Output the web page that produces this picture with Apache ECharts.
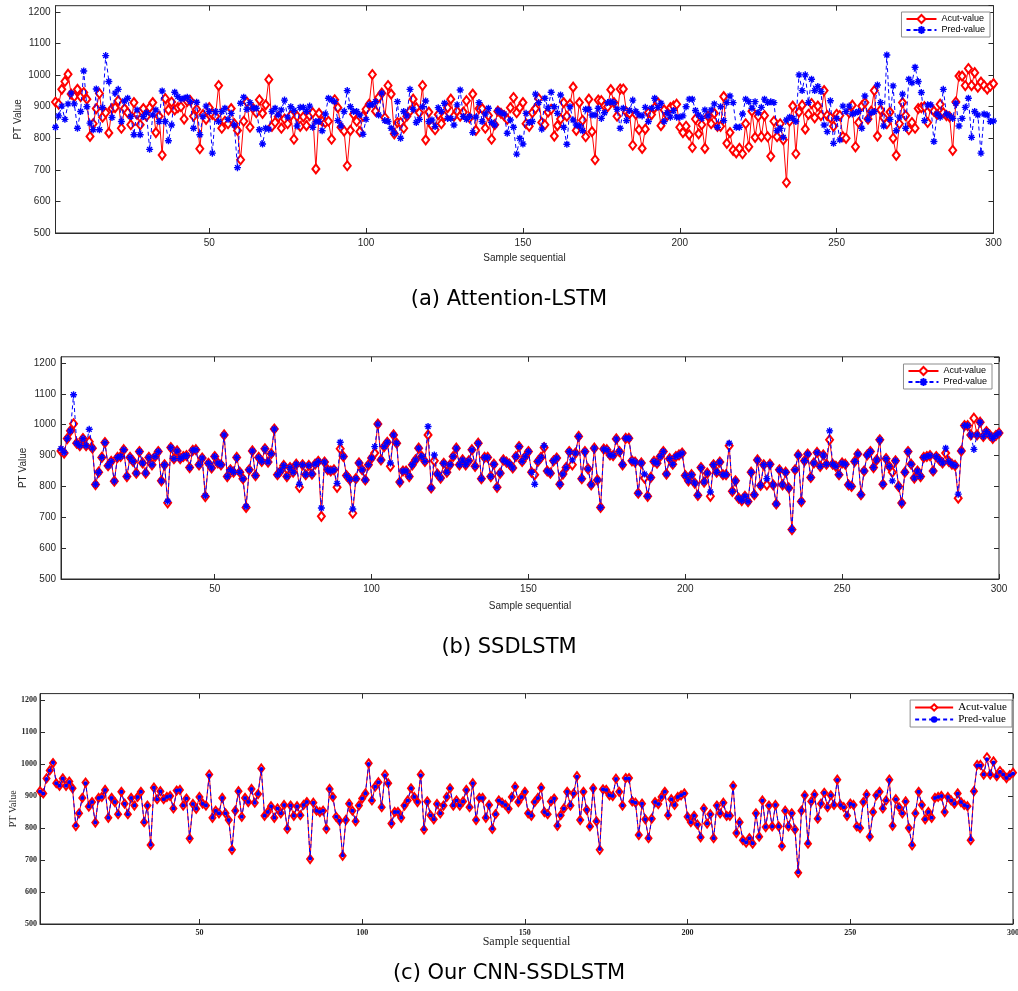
<!DOCTYPE html>
<html>
<head>
<meta charset="utf-8">
<title>PT Value</title>
<script src="https://cdn.jsdelivr.net/npm/echarts@6/dist/echarts.min.js"></script>
<style>
html, body { margin: 0; padding: 0; background: #fff; }
#main { width: 1018px; height: 991px; }
</style>
</head>
<body>
<div id="main"></div>
<script>
// actual PT values (same in all three panels)
var acutValue = [
	915, 908, 955, 980, 1003, 940, 932, 955, 932, 945,
	924, 806, 846, 894, 942, 867, 881, 817, 894, 897,
	919, 832, 894, 881, 843, 913, 876, 843, 894, 870,
	897, 913, 818, 870, 747, 926, 890, 915, 890, 897,
	900, 861, 917, 919, 870, 892, 767, 875, 860, 897,
	876, 870, 967, 832, 854, 846, 894, 846, 825, 732,
	854, 915, 835, 894, 881, 922, 879, 906, 986, 838,
	850, 868, 832, 861, 846, 872, 797, 870, 838, 868,
	840, 872, 881, 703, 879, 854, 850, 854, 797, 922,
	897, 835, 823, 713, 825, 876, 854, 821, 870, 892,
	908, 1002, 886, 929, 943, 865, 967, 940, 814, 850,
	850, 832, 870, 886, 924, 897, 881, 967, 795, 883,
	840, 827, 875, 846, 870, 897, 924, 870, 886, 870,
	883, 919, 865, 940, 825, 894, 894, 832, 872, 797,
	843, 886, 879, 872, 860, 897, 929, 881, 897, 913,
	846, 838, 881, 894, 926, 850, 843, 883, 892, 807,
	840, 861, 913, 870, 908, 962, 825, 913, 857, 805,
	924, 821, 732, 921, 919, 902, 900, 954, 913, 870,
	956, 956, 883, 879, 778, 876, 827, 768, 829, 881,
	875, 897, 913, 840, 890, 872, 897, 902, 908, 835,
	818, 838, 811, 771, 861, 814, 843, 768, 870, 846,
	879, 838, 838, 932, 784, 818, 762, 754, 768, 751,
	846, 773, 886, 803, 870, 805, 872, 805, 743, 854,
	805, 846, 795, 660, 854, 902, 751, 883, 905, 829,
	876, 910, 865, 902, 872, 951, 872, 865, 838, 876,
	872, 805, 800, 881, 905, 773, 850, 902, 913, 861,
	886, 951, 807, 890, 865, 846, 883, 800, 746, 846,
	913, 872, 827, 850, 832, 894, 897, 900, 850, 897,
	886, 876, 908, 881, 872, 868, 762, 915, 997, 997,
	967, 1021, 967, 1008, 962, 978, 967, 956, 965, 973
];

// (a) Attention-LSTM prediction
var predAttention = [
	835, 871, 902, 860, 909, 943, 909, 832, 885, 1013,
	900, 848, 827, 956, 827, 897, 1062, 980, 866, 943,
	955, 853, 918, 927, 869, 811, 890, 811, 869, 881,
	765, 874, 890, 853, 950, 853, 792, 842, 946, 932,
	924, 927, 930, 916, 832, 914, 811, 869, 902, 885,
	753, 885, 853, 885, 895, 860, 879, 842, 707, 911,
	930, 892, 913, 895, 895, 827, 782, 832, 829, 885,
	895, 874, 890, 921, 867, 900, 888, 839, 898, 898,
	885, 902, 835, 853, 853, 824, 877, 927, 921, 916,
	856, 839, 885, 951, 900, 885, 885, 874, 813, 860,
	906, 906, 916, 874, 943, 856, 853, 832, 816, 916,
	800, 885, 871, 955, 892, 850, 860, 900, 918, 853,
	858, 837, 897, 885, 911, 863, 863, 842, 906, 953,
	869, 860, 869, 818, 867, 913, 853, 877, 895, 850,
	842, 888, 881, 877, 816, 858, 835, 750, 800, 782,
	879, 850, 853, 940, 913, 829, 927, 895, 946, 900,
	879, 937, 835, 781, 900, 858, 842, 839, 824, 892,
	892, 874, 874, 895, 863, 881, 913, 916, 913, 892,
	832, 895, 856, 888, 921, 885, 874, 871, 898, 853,
	895, 927, 898, 911, 853, 881, 867, 888, 867, 867,
	871, 900, 924, 924, 888, 874, 863, 890, 871, 890,
	909, 835, 900, 856, 913, 934, 913, 835, 835, 877,
	924, 916, 895, 916, 881, 898, 924, 913, 916, 913,
	824, 832, 803, 858, 867, 863, 853, 1001, 951, 1001,
	913, 987, 951, 964, 948, 842, 821, 919, 784, 863,
	795, 902, 885, 902, 877, 881, 885, 832, 934, 860,
	881, 885, 969, 913, 839, 1064, 860, 966, 824, 867,
	940, 832, 987, 976, 1025, 980, 945, 856, 906, 906,
	790, 877, 867, 955, 877, 871, 863, 911, 839, 863,
	898, 927, 803, 885, 874, 753, 877, 874, 853, 855
];

// (b) SSDLSTM prediction
var predSsdlstm = [
	922, 910, 955, 980, 1097, 940, 932, 955, 932, 985,
	924, 806, 846, 894, 942, 867, 881, 817, 894, 897,
	919, 832, 894, 881, 843, 913, 876, 843, 894, 870,
	897, 913, 818, 870, 752, 926, 890, 915, 890, 897,
	900, 861, 917, 919, 870, 892, 770, 875, 860, 897,
	876, 870, 967, 832, 854, 846, 894, 846, 825, 735,
	854, 915, 835, 894, 881, 922, 879, 906, 986, 838,
	850, 868, 832, 861, 846, 872, 807, 870, 838, 868,
	840, 872, 881, 730, 879, 854, 850, 854, 810, 943,
	897, 835, 823, 727, 825, 876, 854, 821, 870, 892,
	929, 1002, 886, 929, 943, 876, 967, 940, 814, 850,
	850, 832, 870, 886, 924, 897, 881, 994, 795, 902,
	840, 827, 875, 846, 870, 897, 924, 870, 886, 870,
	883, 919, 865, 940, 825, 894, 894, 832, 872, 797,
	843, 886, 879, 872, 860, 897, 929, 881, 897, 913,
	846, 807, 881, 894, 932, 850, 843, 883, 892, 807,
	840, 861, 913, 886, 908, 962, 825, 913, 857, 805,
	924, 821, 732, 921, 919, 902, 900, 954, 913, 870,
	956, 956, 883, 879, 778, 876, 840, 768, 829, 881,
	875, 897, 913, 840, 890, 872, 897, 902, 908, 835,
	818, 838, 811, 771, 861, 814, 843, 782, 870, 846,
	879, 838, 838, 940, 784, 818, 762, 754, 768, 751,
	846, 773, 886, 803, 870, 825, 872, 805, 743, 854,
	805, 846, 795, 660, 854, 902, 751, 883, 905, 829,
	876, 910, 865, 902, 872, 980, 872, 865, 838, 876,
	872, 805, 800, 881, 905, 773, 850, 902, 913, 861,
	886, 951, 807, 890, 865, 818, 883, 800, 746, 846,
	913, 872, 827, 850, 832, 894, 897, 900, 850, 897,
	886, 876, 924, 881, 872, 868, 775, 915, 997, 997,
	967, 920, 967, 1008, 962, 978, 967, 956, 965, 973
];

// (c) CNN-SSDLSTM prediction
var predOurs = [
	914, 908, 953, 980, 1005, 940, 932, 955, 932, 944,
	924, 808, 846, 894, 940, 867, 881, 817, 894, 897,
	919, 832, 894, 881, 843, 913, 876, 843, 894, 870,
	897, 913, 818, 870, 748, 926, 890, 915, 890, 897,
	900, 861, 917, 919, 870, 892, 768, 875, 860, 897,
	876, 870, 965, 832, 854, 846, 894, 846, 825, 733,
	854, 915, 835, 894, 881, 922, 879, 906, 984, 838,
	850, 868, 832, 861, 846, 872, 798, 870, 838, 868,
	840, 872, 881, 705, 879, 854, 850, 854, 798, 922,
	897, 835, 823, 715, 825, 876, 854, 821, 870, 892,
	908, 1000, 886, 929, 943, 865, 965, 940, 814, 850,
	850, 832, 870, 886, 924, 897, 881, 965, 796, 883,
	840, 827, 875, 846, 870, 897, 924, 870, 886, 870,
	883, 919, 865, 940, 825, 894, 894, 832, 872, 798,
	843, 886, 879, 872, 860, 897, 929, 881, 897, 913,
	846, 838, 881, 894, 926, 850, 843, 883, 892, 807,
	840, 861, 913, 870, 908, 960, 825, 913, 857, 805,
	924, 821, 734, 921, 919, 902, 900, 953, 913, 870,
	955, 955, 883, 879, 778, 876, 827, 768, 829, 881,
	875, 897, 913, 840, 890, 872, 897, 902, 908, 835,
	818, 838, 811, 771, 861, 814, 843, 768, 870, 846,
	879, 838, 838, 932, 784, 818, 762, 755, 768, 752,
	846, 773, 886, 803, 870, 805, 872, 805, 744, 854,
	805, 846, 795, 662, 854, 902, 752, 883, 905, 829,
	876, 910, 865, 902, 872, 950, 872, 865, 838, 876,
	872, 805, 800, 881, 905, 773, 850, 902, 913, 861,
	886, 950, 807, 890, 865, 846, 883, 800, 747, 846,
	913, 872, 827, 850, 832, 894, 897, 900, 850, 897,
	886, 876, 908, 881, 872, 868, 764, 915, 995, 995,
	967, 1015, 967, 1005, 962, 976, 967, 956, 965, 970
];

var xTicks = [50, 100, 150, 200, 250, 300];
var yTicks = [500, 600, 700, 800, 900, 1000, 1100, 1200];
var seriesNames = ['Acut-value', 'Pred-value'];
var captions = ['(a) Attention-LSTM', '(b) SSDLSTM', '(c) Our CNN-SSDLSTM'];

var samples = [];
for (var i = 1; i <= acutValue.length; i++) {
	samples.push(String(i));
}

var ASTERISK = 'path://M5,0L5,10M0,5L10,5M1.5,1.5L8.5,8.5M8.5,1.5L1.5,8.5';

// layout of the three subplots
var panels = [{
	key: 'a', pred: predAttention,
	left: 55.5, top: 5.7, width: 938, height: 227.3,
	font: 'Liberation Sans', tickSize: 10, tickBold: 'normal', nameSize: 10, xNameSize: 10,
	yNameGap: 32, xNameGap: 20, legendRight: 28, legendTop: 12, legendSize: 9, legendW: 30, legendH: 10,
	predSymbol: ASTERISK, predSize: 7, yMargin: 5, caption: 297
}, {
	key: 'b', pred: predSsdlstm,
	left: 61, top: 356.8, width: 938, height: 222.2,
	font: 'Liberation Sans', tickSize: 10, tickBold: 'normal', nameSize: 10, xNameSize: 10,
	yNameGap: 33, xNameGap: 22, legendRight: 26, legendTop: 364, legendSize: 9, legendW: 30, legendH: 10,
	predSymbol: ASTERISK, predSize: 7, yMargin: 5, caption: 645
}, {
	key: 'c', pred: predOurs,
	left: 40, top: 693.6, width: 973, height: 230.4,
	font: 'Liberation Serif', tickSize: 8, tickBold: 'bold', nameSize: 10, xNameSize: 12,
	yNameGap: 22, xNameGap: 12, legendRight: 6, legendTop: 700, legendSize: 11, legendW: 38, legendH: 8,
	predSymbol: 'circle', predSize: 4, yMargin: 3, caption: 971
}];

function isTick(idx, val) {
	return xTicks.indexOf(+val) >= 0;
}

var grids = [], xAxes = [], yAxes = [], series = [], legends = [], graphics = [];

panels.forEach(function(p, k) {
	grids.push({
		left: p.left, top: p.top, width: p.width, height: p.height,
		show: true, borderColor: '#2b2b2b', borderWidth: 1,
		outerBoundsMode: 'none'
	});
	var labelStyle = {
		color: '#262626', fontFamily: p.font, fontSize: p.tickSize, fontWeight: p.tickBold
	};
	// bottom + mirrored top
	xAxes.push({
		type: 'category', gridIndex: k, data: samples, boundaryGap: false,
		position: 'bottom',
		name: 'Sample sequential', nameLocation: 'middle', nameGap: p.xNameGap,
		nameMoveOverlap: false,
		nameTextStyle: { color: '#262626', fontFamily: p.font, fontSize: p.xNameSize },
		axisLine: { lineStyle: { color: '#2b2b2b', width: 1 } },
		axisTick: { inside: true, length: 5, interval: isTick, lineStyle: { color: '#2b2b2b' } },
		axisLabel: Object.assign({ interval: isTick, margin: 5 }, labelStyle),
		splitLine: { show: false }
	});
	xAxes.push({
		type: 'category', gridIndex: k, data: samples, boundaryGap: false,
		position: 'top',
		axisLine: { show: false },
		axisTick: { inside: true, length: 5, interval: isTick, lineStyle: { color: '#2b2b2b' } },
		axisLabel: { show: false },
		splitLine: { show: false }
	});
	var yBase = {
		type: 'value', gridIndex: k, min: 500, max: 1220, interval: 100,
		splitLine: { show: false }
	};
	yAxes.push(Object.assign({}, yBase, {
		position: 'left',
		name: 'PT Value', nameLocation: 'middle', nameRotate: 90, nameGap: p.yNameGap,
		nameMoveOverlap: false,
		nameTextStyle: { color: '#262626', fontFamily: p.font, fontSize: p.nameSize },
		axisLine: { show: true, lineStyle: { color: '#2b2b2b', width: 1 } },
		axisTick: { show: true, inside: true, length: 5, lineStyle: { color: '#2b2b2b' } },
		axisLabel: Object.assign({
			margin: p.yMargin, showMaxLabel: false,
			formatter: function(v) { return yTicks.indexOf(v) >= 0 ? String(v) : ''; }
		}, labelStyle)
	}));
	yAxes.push(Object.assign({}, yBase, {
		position: 'right',
		axisLine: { show: false },
		axisTick: { show: true, inside: true, length: 5, lineStyle: { color: '#2b2b2b' } },
		axisLabel: { show: false }
	}));

	var acutStyle = { color: '#ff0000', borderColor: '#ff0000', borderWidth: 1 };
	var predStyle = { color: '#0000ff', borderColor: '#0000ff', borderWidth: p.key == 'c' ? 0 : 1.4 };

	series.push({
		name: seriesNames[0] + ' ' + p.key, type: 'line',
		xAxisIndex: k * 2, yAxisIndex: k * 2,
		data: acutValue, showAllSymbol: true,
		symbol: 'emptyDiamond', symbolSize: p.key == 'c' ? [6, 8] : [7, 9],
		lineStyle: { color: '#ff0000', width: 1 },
		itemStyle: acutStyle,
		z: 2
	});
	series.push({
		name: seriesNames[1] + ' ' + p.key, type: 'line',
		xAxisIndex: k * 2, yAxisIndex: k * 2,
		data: p.pred, showAllSymbol: true,
		symbol: p.predSymbol, symbolSize: p.predSize,
		lineStyle: { color: '#0000ff', width: 1, type: [4, 3] },
		itemStyle: predStyle,
		z: 3
	});

	legends.push({
		data: [seriesNames[0] + ' ' + p.key, seriesNames[1] + ' ' + p.key],
		orient: 'vertical', right: p.legendRight, top: p.legendTop,
		backgroundColor: '#fff', borderColor: '#8c8c8c', borderWidth: 1,
		padding: [2, 5, 2, 4], itemGap: 1, itemWidth: p.legendW, itemHeight: p.legendH,
		selectedMode: false,
		textStyle: { color: '#000', fontFamily: p.font, fontSize: p.legendSize },
		formatter: function(name) { return name.replace(/ [abc]$/, ''); }
	});

	graphics.push({
		type: 'text', left: 'center', top: p.caption - 8,
		style: { text: captions[k], fill: '#000', font: '21px "DejaVu Sans"' }
	});
});

var chart = echarts.init(document.getElementById('main'), null, { renderer: 'canvas' });
chart.setOption({
	animation: false,
	backgroundColor: '#fff',
	grid: grids,
	xAxis: xAxes,
	yAxis: yAxes,
	legend: legends,
	series: series,
	graphic: graphics
});
</script>
</body>
</html>
